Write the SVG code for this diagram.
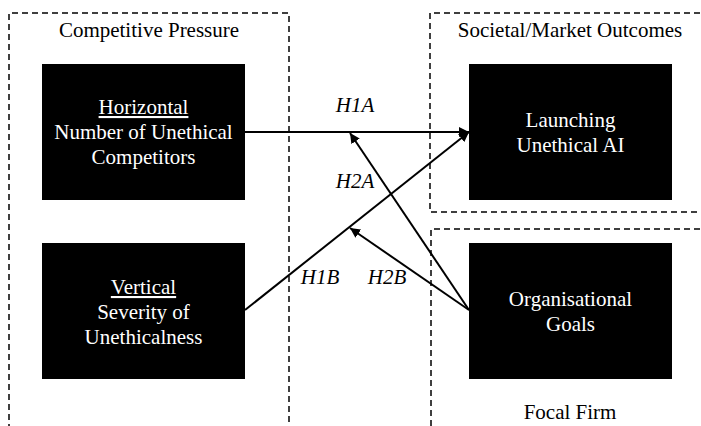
<svg xmlns="http://www.w3.org/2000/svg" width="701" height="426" viewBox="0 0 701 426">
<style>
.grp{fill:none;stroke:#000;stroke-width:1.5;stroke-dasharray:6 4}
.box{fill:#000}
text{font-family:'Liberation Serif','Times New Roman',serif;font-size:21px;text-anchor:middle}
.w{fill:#fff}
.k{fill:#000}
.i{font-style:italic}
.c{stroke:#000;stroke-width:2;fill:none;marker-end:url(#ah)}
</style>
<defs>
<marker id="ah" viewBox="0 0 10 10" refX="10" refY="5" markerWidth="5" markerHeight="5" orient="auto" markerUnits="strokeWidth">
<path d="M0,0 L10,5 L0,10 z" fill="#000"/>
</marker>
</defs>
<rect width="701" height="426" fill="#fff"/>
<g id="groups">
<path class="grp" d="M9,440 V13 H289 V440"/>
<path class="grp" d="M710,13 H430 V212 H710"/>
<path class="grp" d="M710,229 H431 V440"/>
<text class="k" x="149" y="37">Competitive Pressure</text>
<text class="k" x="570" y="37">Societal/Market Outcomes</text>
<text class="k" x="570" y="419">Focal Firm</text>
</g>
<g id="horizontal">
<rect class="box" x="42" y="64" width="203" height="136"/>
<text class="w" x="143.5" y="114" text-decoration="underline">Horizontal</text>
<text class="w" x="143.5" y="139">Number of Unethical</text>
<text class="w" x="143.5" y="164">Competitors</text>
</g>
<g id="vertical">
<rect class="box" x="42" y="243" width="203" height="136"/>
<text class="w" x="143.5" y="294" text-decoration="underline">Vertical</text>
<text class="w" x="143.5" y="319">Severity of</text>
<text class="w" x="143.5" y="344">Unethicalness</text>
</g>
<g id="launching">
<rect class="box" x="469" y="64" width="203" height="136"/>
<text class="w" x="570.5" y="127">Launching</text>
<text class="w" x="570.5" y="152">Unethical AI</text>
</g>
<g id="goals">
<rect class="box" x="469" y="243" width="203" height="136"/>
<text class="w" x="570.5" y="306">Organisational</text>
<text class="w" x="570.5" y="331">Goals</text>
</g>
<g id="connectors">
<line class="c" x1="245" y1="132" x2="469" y2="132"/>
<line class="c" x1="245" y1="310" x2="469" y2="132"/>
<line class="c" x1="469" y1="310" x2="350" y2="133"/>
<line class="c" x1="469" y1="310" x2="350" y2="228"/>
<text class="k i" x="355" y="112">H1A</text>
<text class="k i" x="355" y="188">H2A</text>
<text class="k i" x="320" y="284">H1B</text>
<text class="k i" x="387" y="284">H2B</text>
</g>
</svg>
